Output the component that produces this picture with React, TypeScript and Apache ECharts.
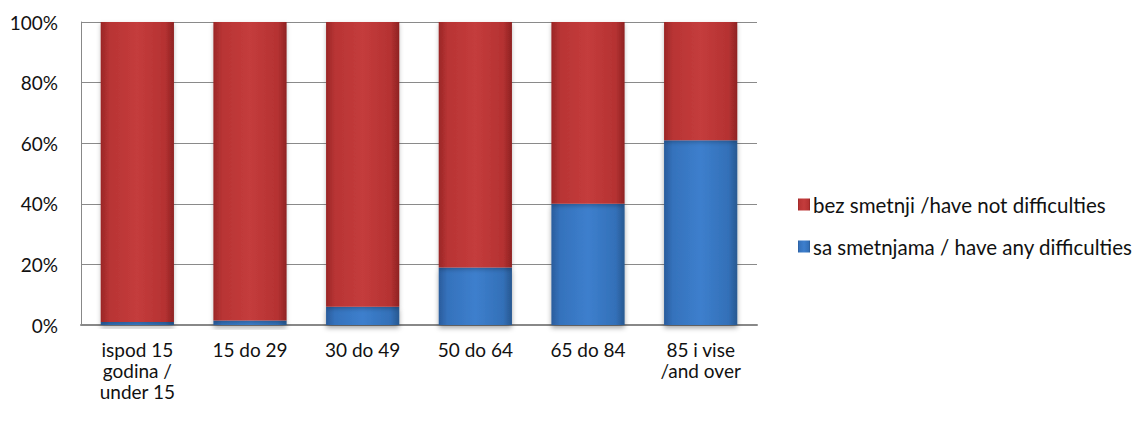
import React, { useEffect, useRef } from "react";
import * as echarts from "echarts";

const categories = ["ispod 15\ngodina /\nunder 15", "15 do 29", "30 do 49", "50 do 64", "65 do 84", "85 i vise\n/and over"];
const withDifficulties = [1, 1.5, 6, 19, 40, 61];
const withoutDifficulties = [99, 98.5, 94, 81, 60, 39];
const yTicks = [0, 20, 40, 60, 80, 100];

const FONT = "Lato, 'Open Sans', sans-serif";

const redGrad = new echarts.graphic.LinearGradient(0, 0, 1, 0, [
  { offset: 0, color: "#9a2626" },
  { offset: 0.12, color: "#b83434" },
  { offset: 0.5, color: "#c43c3c" },
  { offset: 0.88, color: "#b53232" },
  { offset: 1, color: "#8e2222" },
]);
const blueGrad = new echarts.graphic.LinearGradient(0, 0, 1, 0, [
  { offset: 0, color: "#2a5c9c" },
  { offset: 0.12, color: "#3572bc" },
  { offset: 0.5, color: "#3d7fcd" },
  { offset: 0.88, color: "#3370b8" },
  { offset: 1, color: "#285890" },
]);

export default function App() {
  const ref = useRef<HTMLDivElement>(null);
  useEffect(() => {
    if (!ref.current) return;
    const chart = echarts.init(ref.current, null, { renderer: "svg" });
    chart.setOption({
      animation: false,
      textStyle: { fontFamily: FONT },
      grid: { left: 81, right: 388, top: 22, bottom: 100, containLabel: false },
      legend: {
        orient: "vertical",
        left: 793,
        top: 189,
        itemGap: 21,
        itemWidth: 12,
        itemHeight: 12,
        icon: "rect",
        data: ["bez smetnji /have not difficulties", "sa smetnjama / have any difficulties"],
        textStyle: { fontFamily: FONT, fontSize: 20.5, color: "#111", padding: [0, 0, 0, -2] },
      },
      xAxis: {
        type: "category",
        data: categories,
        axisLine: { show: true, lineStyle: { color: "#888", width: 2 } },
        axisTick: { show: false },
        axisLabel: {
          color: "#111",
          fontFamily: FONT,
          fontSize: 19,
          lineHeight: 21,
          margin: 14,
          interval: 0,
          align: "center",
        },
      },
      yAxis: {
        type: "value",
        min: 0,
        max: 100,
        interval: 20,
        axisLine: { show: true, lineStyle: { color: "#888", width: 1 } },
        axisTick: { show: false },
        splitLine: { show: true, lineStyle: { color: "#8a8a8a", width: 1 } },
        axisLabel: {
          color: "#111",
          fontFamily: FONT,
          fontSize: 19,
          margin: 23,
          formatter: (v: number) => (yTicks.includes(v) ? v + "%" : ""),
        },
      },
      series: [
        {
          name: "sa smetnjama / have any difficulties",
          type: "bar",
          stack: "total",
          barWidth: "65%",
          data: withDifficulties,
          itemStyle: {
            color: blueGrad,
            shadowColor: "rgba(0,0,0,0.35)",
            shadowBlur: 5,
            shadowOffsetY: 3,
          },
        },
        {
          name: "bez smetnji /have not difficulties",
          type: "bar",
          stack: "total",
          barWidth: "65%",
          data: withoutDifficulties,
          itemStyle: {
            color: redGrad,
            shadowColor: "rgba(0,0,0,0.25)",
            shadowBlur: 4,
            shadowOffsetY: 2,
          },
        },
      ],
    });
    return () => chart.dispose();
  }, []);
  return <div ref={ref} style={{ width: 1145, height: 425, marginLeft: -8, marginTop: -8 }} />;
}
